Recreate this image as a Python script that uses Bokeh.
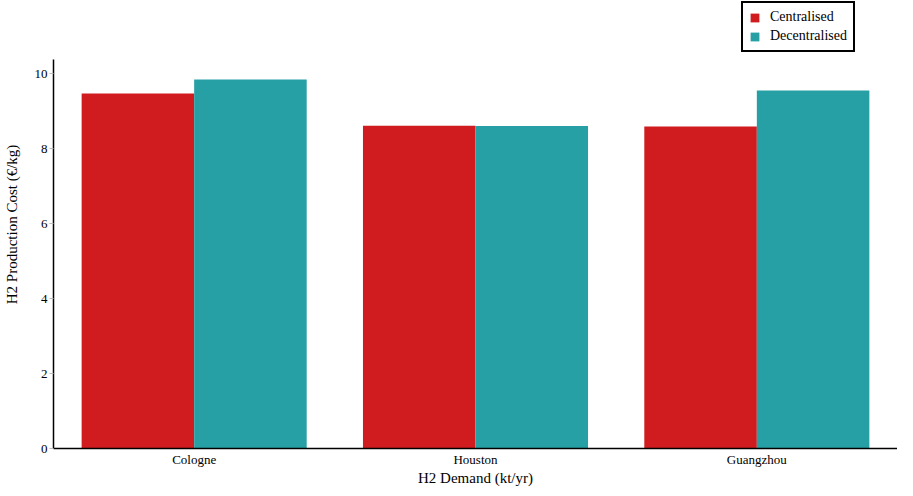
from bokeh.plotting import figure
from bokeh.models import FactorRange, Range1d, Legend, LegendItem, ColumnDataSource
from bokeh.transform import dodge
from bokeh.embed import file_html
from bokeh.resources import INLINE

cities = ["Cologne", "Houston", "Guangzhou"]
centralised = [9.47, 8.61, 8.59]
decentralised = [9.84, 8.60, 9.55]
series_names = ["Centralised", "Decentralised"]
y_ticks = [0, 2, 4, 6, 8, 10]
x_title = "H2 Demand (kt/yr)"
y_title = "H2 Production Cost (€/kg)"

RED = "#d01c1f"
TEAL = "#27a0a5"
FONT = "Liberation Serif"

src = ColumnDataSource(dict(city=cities, c=centralised, d=decentralised))

p = figure(width=897, height=488, x_range=FactorRange(*cities, range_padding=0),
           y_range=Range1d(0, 11.95), output_backend="svg", toolbar_location=None,
           min_border_left=44, min_border_top=0, min_border_right=0, min_border_bottom=0)

r1 = p.vbar(x=dodge("city", -0.2, range=p.x_range), top="c", width=0.4, source=src,
            fill_color=RED, line_color=None)
r2 = p.vbar(x=dodge("city", 0.2, range=p.x_range), top="d", width=0.4, source=src,
            fill_color=TEAL, line_color=None)

p.outline_line_color = None
p.xgrid.grid_line_color = None
p.ygrid.grid_line_color = None

for ax in (p.xaxis[0], p.yaxis[0]):
    ax.axis_line_color = "black"
    ax.axis_line_width = 1.5
    ax.major_label_text_font = FONT
    ax.major_label_text_font_size = "13px"
    ax.major_label_text_color = "black"
    ax.axis_label_text_font = FONT
    ax.axis_label_text_font_size = "15px"
    ax.axis_label_text_font_style = "normal"
    ax.axis_label_text_color = "black"
    ax.minor_tick_line_color = None

p.xaxis.axis_label = x_title
p.xaxis.major_tick_line_color = None
p.xaxis.major_tick_in = 0
p.xaxis.major_tick_out = 0
p.xaxis.major_label_standoff = 3
p.xaxis.axis_label_standoff = 0

p.yaxis.axis_label = y_title
p.yaxis.ticker = y_ticks
p.yaxis.bounds = (0, 10.37)
p.yaxis.major_tick_in = 0
p.yaxis.major_tick_out = 4
p.yaxis.major_tick_line_color = "#bbbbbb"
p.yaxis.major_label_standoff = 2
p.yaxis.axis_label_standoff = 12

legend = Legend(items=[LegendItem(label=series_names[0], renderers=[r1]),
                       LegendItem(label=series_names[1], renderers=[r2])],
                location=(688, 396),
                border_line_color="black", border_line_width=2, border_line_alpha=1,
                background_fill_color="white", background_fill_alpha=1,
                label_text_font=FONT, label_text_font_size="14px", label_text_color="black",
                glyph_width=11, glyph_height=11, label_standoff=10,
                padding=6, spacing=3, margin=0, label_height=12)
p.add_layout(legend, "center")

open("out.html", "w").write(file_html(p, INLINE))
